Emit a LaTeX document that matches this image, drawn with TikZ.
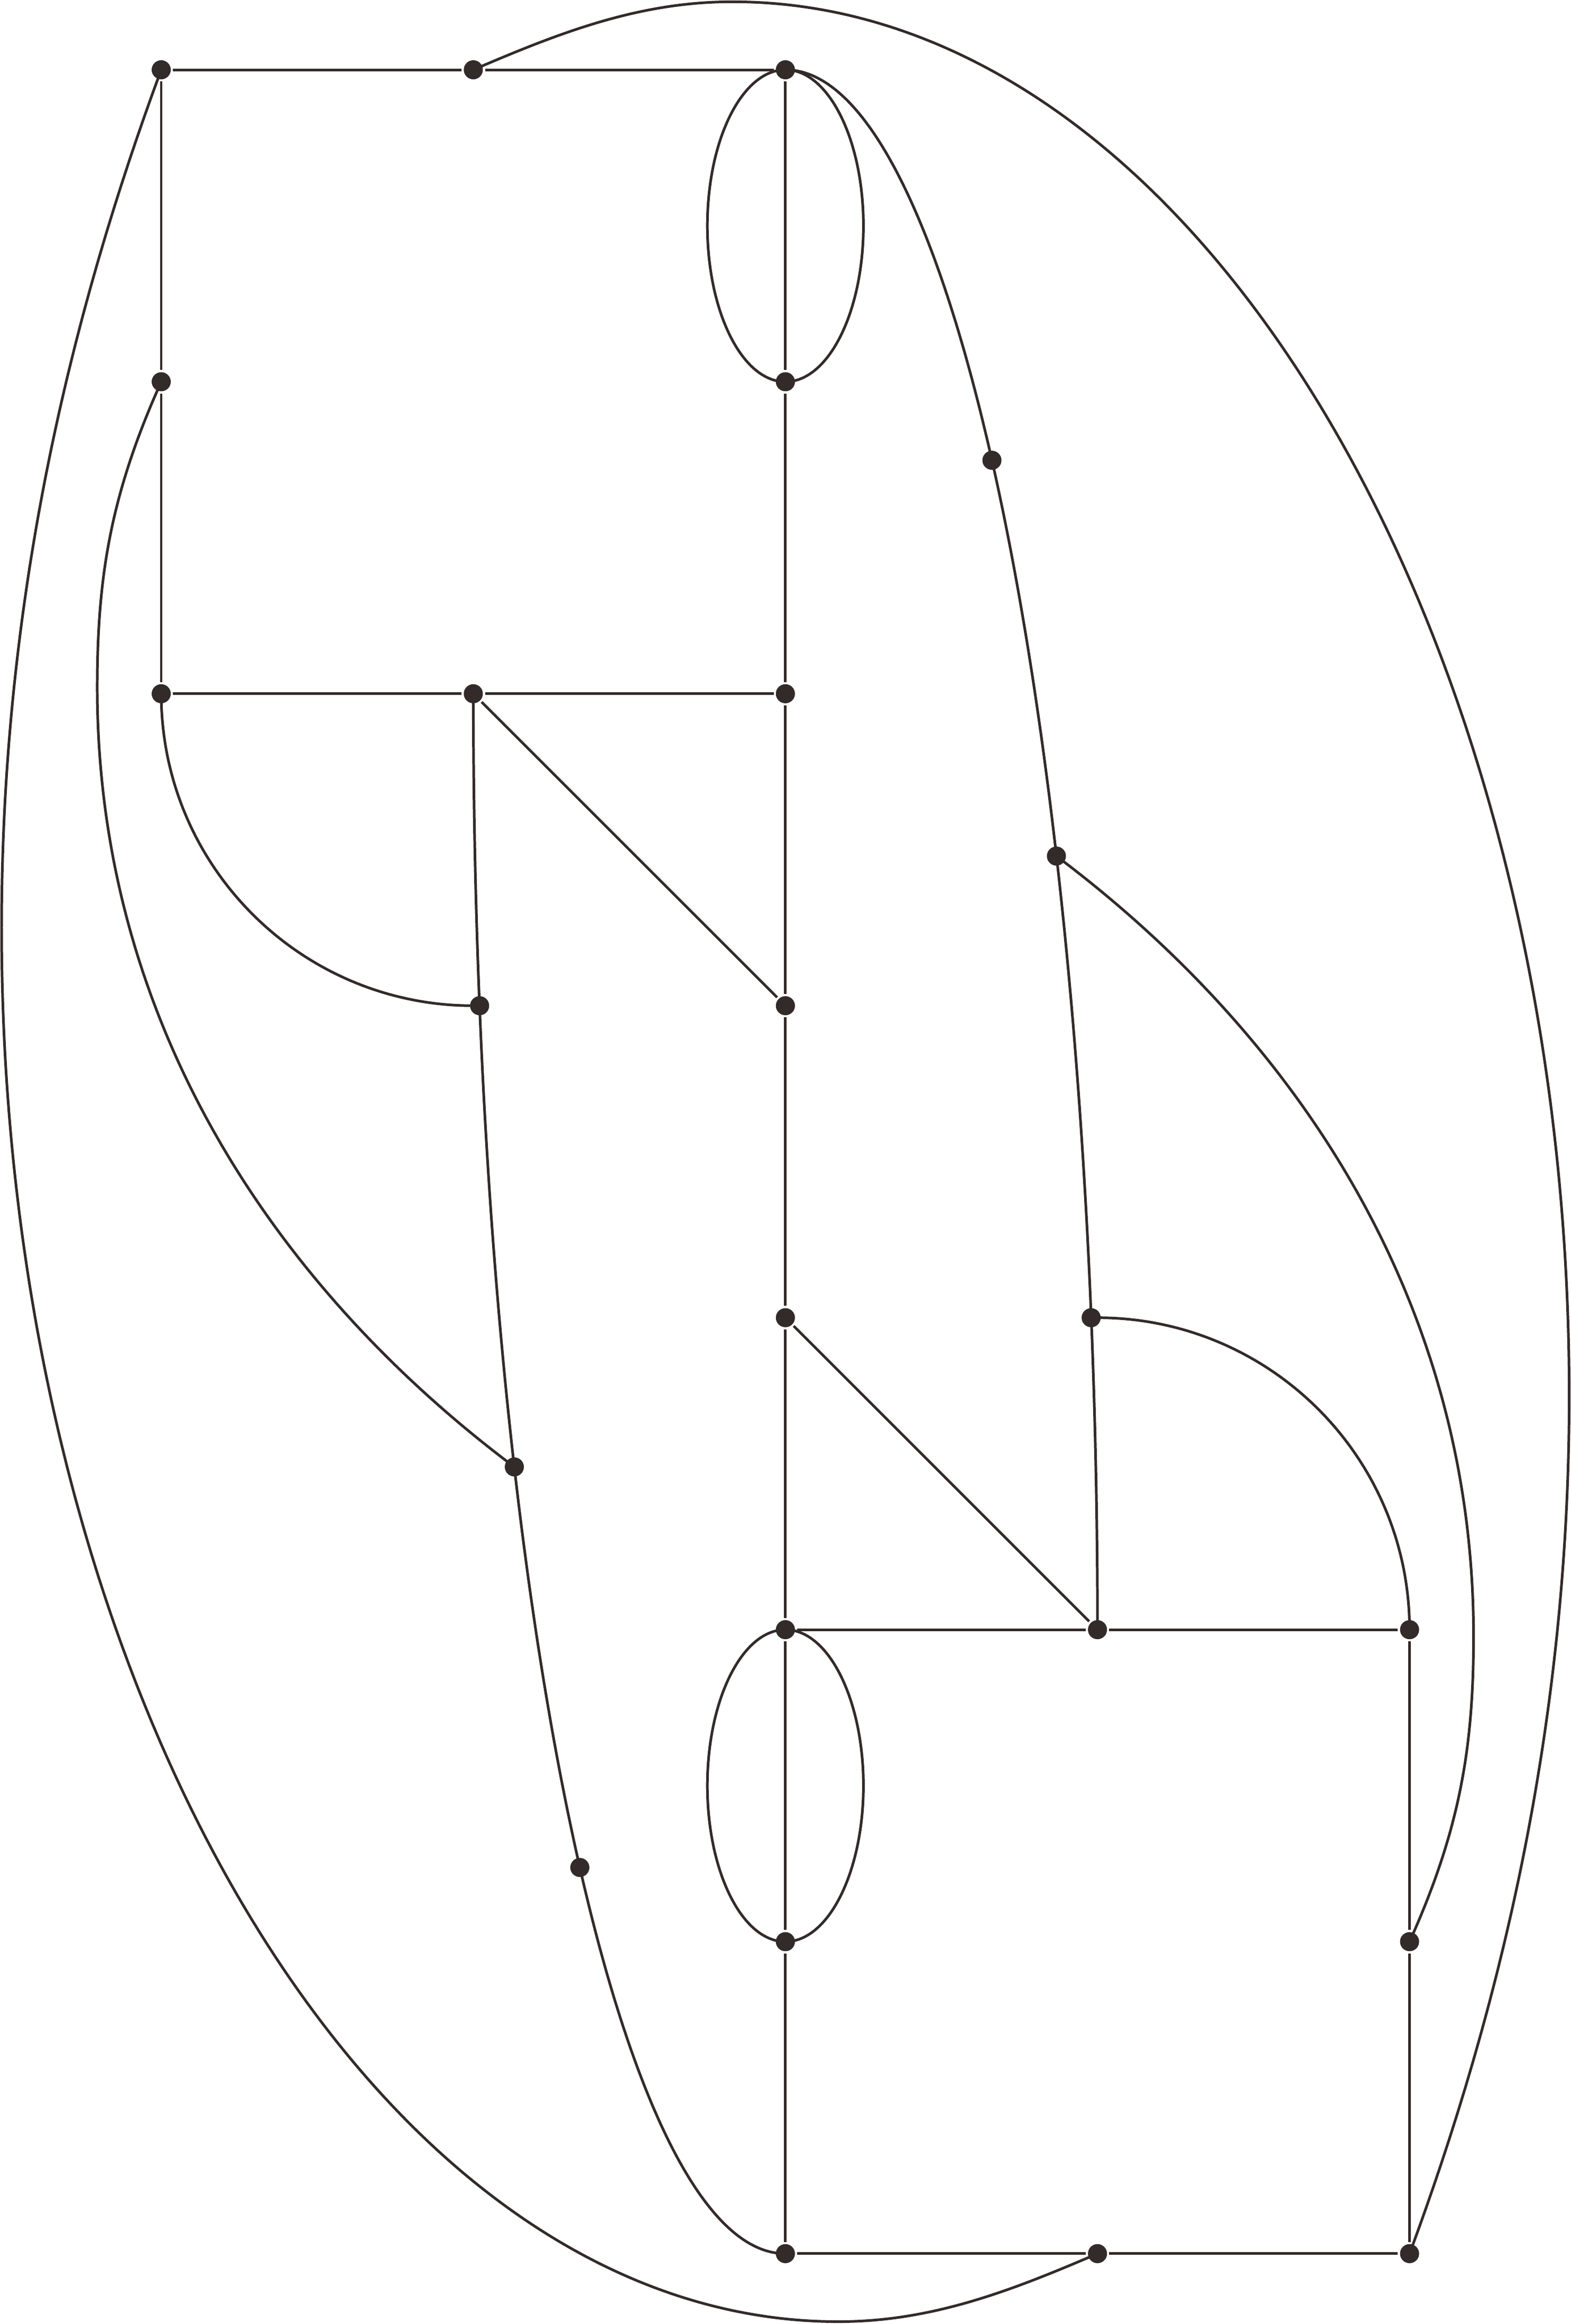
\documentclass[tikz,border=0pt]{standalone}
\definecolor{ink}{RGB}{51,42,42}
\begin{document}
\begin{tikzpicture}[x=1cm, y=-1cm,
  dot/.style={circle, fill=ink, draw=none, inner sep=0pt, minimum size=1.74pt},
  edge/.style={draw=ink, line width=0.24pt}]
\useasboundingbox (-0.5166,-0.2236) rectangle (4.5173,7.2256);
% vertices
\node[dot] (A) at (0,0) {};
\node[dot] (B) at (1,0) {};
\node[dot] (C) at (2,0) {};
\node[dot] (D) at (0,1) {};
\node[dot] (E) at (2,1) {};
\node[dot] (F) at (2.6618,1.2517) {};
\node[dot] (G) at (0,2) {};
\node[dot] (H) at (1,2) {};
\node[dot] (I) at (2,2) {};
\node[dot] (J) at (2.8684,2.5203) {};
\node[dot] (K) at (1.0202,3) {};
\node[dot] (L) at (2,3) {};
\node[dot] (M) at (2,4) {};
\node[dot] (N) at (2.9798,4) {};
\node[dot] (O) at (1.1315,4.4783) {};
\node[dot] (P) at (2,5) {};
\node[dot] (Q) at (3,5) {};
\node[dot] (R) at (4,5) {};
\node[dot] (S) at (1.3413,5.7622) {};
\node[dot] (T) at (2,6) {};
\node[dot] (U) at (4,6) {};
\node[dot] (V) at (2,7) {};
\node[dot] (W) at (3,7) {};
\node[dot] (X) at (4,7) {};
% straight edges
\draw[edge] (A) -- (B) -- (C);
\draw[edge] (A) -- (D) -- (G);
\draw[edge] (C) -- (E) -- (I) -- (L) -- (M) -- (P) -- (T) -- (V);
\draw[edge] (G) -- (H) -- (I);
\draw[edge] (H) -- (L);
\draw[edge] (M) -- (Q);
\draw[edge] (P) -- (Q) -- (R);
\draw[edge] (R) -- (U) -- (X);
\draw[edge] (V) -- (W) -- (X);
% loops around C-E and P-T
\draw[edge] (C.center) arc[start angle=-90, end angle=270, x radius=0.25, y radius=0.5];
\draw[edge] (P.center) arc[start angle=-90, end angle=270, x radius=0.25, y radius=0.5];
% long quarter-ellipse curves
\draw[edge] (C.center) arc[start angle=-90, end angle=0, x radius=1, y radius=5];
\draw[edge] (H.center) arc[start angle=180, end angle=90, x radius=1, y radius=5];
% quarter circles
\draw[edge] (G.center) arc[start angle=180, end angle=90, radius=1];
\draw[edge] (R.center) arc[start angle=0, end angle=-90, radius=1];
% D - O and U - J curves
\draw[edge] (D.center) .. controls (-0.164,1.3648) and (-0.205,1.63) .. (-0.205,1.98)
  .. controls (-0.205,3.06) and (0.3715,3.9083) .. (O.center);
\draw[edge] (U.center) .. controls (4.164,5.6352) and (4.205,5.37) .. (4.205,5.02)
  .. controls (4.205,3.94) and (3.6285,3.0917) .. (J.center);
% outer curves
\draw[edge] (A.center) .. controls (-0.3123,0.8442) and (-0.5115,1.75) .. (-0.5115,2.75)
  .. controls (-0.5115,5.20) and (0.69,7.218) .. (2.17,7.218)
  .. controls (2.47,7.218) and (2.7243,7.1185) .. (W.center);
\draw[edge] (B.center) .. controls (1.2757,-0.1185) and (1.53,-0.218) .. (1.83,-0.218)
  .. controls (3.31,-0.218) and (4.5115,1.80) .. (4.5115,4.25)
  .. controls (4.5115,5.25) and (4.3123,6.1558) .. (X.center);
\end{tikzpicture}
\end{document}
